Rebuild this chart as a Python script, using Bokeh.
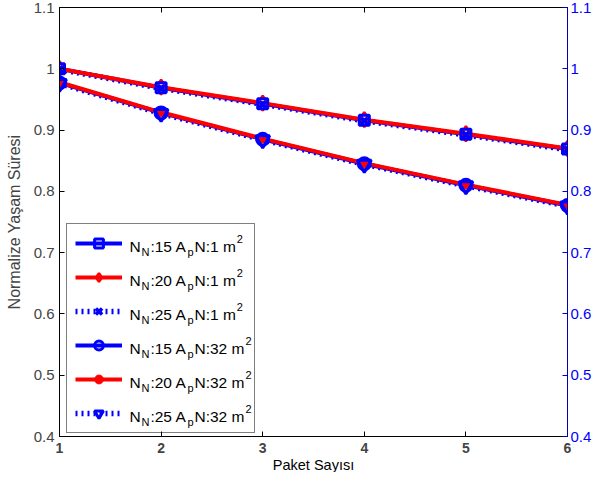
from bokeh.plotting import figure
from bokeh.models import Range1d, LinearAxis, FixedTicker, Legend, LegendItem, Label, Title
from bokeh.embed import file_html
from bokeh.resources import INLINE

# ---- data ----
packets = [1, 2, 3, 4, 5, 6]
n15_a1 = [1.000, 0.969, 0.943, 0.916, 0.893, 0.869]
n20_a1 = [1.000, 0.970, 0.944, 0.917, 0.894, 0.870]
n25_a1 = [0.999, 0.968, 0.942, 0.915, 0.892, 0.868]
n15_a32 = [0.977, 0.928, 0.885, 0.845, 0.810, 0.777]
n20_a32 = [0.978, 0.929, 0.886, 0.846, 0.811, 0.778]
n25_a32 = [0.976, 0.927, 0.884, 0.844, 0.809, 0.776]

x_ticks = [1, 2, 3, 4, 5, 6]
y_ticks = [0.4, 0.5, 0.6, 0.7, 0.8, 0.9, 1.0, 1.1]
y_tick_labels = ["0.4", "0.5", "0.6", "0.7", "0.8", "0.9", "1", "1.1"]

legend_nodes = ["15", "20", "25", "15", "20", "25"]
legend_areas = ["1", "1", "1", "32", "32", "32"]

x_label = "Paket Sayısı"
y_label = "Normalize Yaşam Süresi"

BLUE = "#0000ff"
RED = "#ff0000"
FONT = "Liberation Sans"
X0, Y0 = 1, 0.4  # frame's bottom-left corner in data units

p = figure(width=594, height=472, output_backend="svg", toolbar_location=None,
           x_range=Range1d(1, 6), y_range=Range1d(0.4, 1.1),
           min_border_left=59, min_border_right=10, min_border_top=7,
           min_border_bottom=30)
p.grid.visible = False
p.outline_line_color = "black"
p.background_fill_color = "white"
p.border_fill_color = "white"

overrides = {t: l for t, l in zip(y_ticks, y_tick_labels)}

# bottom axis
xa = p.xaxis[0]
xa.ticker = FixedTicker(ticks=x_ticks)
xa.major_tick_in = 5
xa.major_tick_out = 0
xa.minor_tick_line_color = None
xa.major_label_text_font = FONT
xa.major_label_text_font_size = "14px"
xa.major_label_text_font_style = "bold"
xa.major_label_standoff = 6
xa.axis_label = None

# x-axis title below the tick labels
p.add_layout(Title(text=x_label, align="center", text_font=FONT,
                   text_font_size="14.5px", text_font_style="normal",
                   text_color="black", standoff=-1, offset=0), "below")

# left axis
ya = p.yaxis[0]
ya.ticker = FixedTicker(ticks=y_ticks)
ya.major_label_overrides = overrides
ya.major_tick_in = 5
ya.major_tick_out = 0
ya.minor_tick_line_color = None
ya.major_label_text_font = FONT
ya.major_label_text_font_size = "15px"
ya.major_label_standoff = 5
ya.axis_label = y_label
ya.axis_label_text_font = FONT
ya.axis_label_text_font_size = "16px"
ya.axis_label_text_font_style = "normal"
ya.axis_label_standoff = 8

# top axis (ticks only)
ta = LinearAxis(ticker=FixedTicker(ticks=x_ticks), major_tick_in=5, major_tick_out=0,
                minor_tick_line_color=None, major_label_text_font_size="0px",
                major_label_overrides={t: "" for t in x_ticks},
                major_label_standoff=0, axis_label=None)
p.add_layout(ta, "above")

# right axis (blue)
p.extra_y_ranges = {"right": Range1d(0.4, 1.1)}
ra = LinearAxis(y_range_name="right", ticker=FixedTicker(ticks=y_ticks),
                major_label_overrides=overrides, major_tick_in=5, major_tick_out=0,
                minor_tick_line_color=None, axis_line_color="#0000b4",
                major_tick_line_color="#0000b4", major_label_text_color=BLUE,
                major_label_text_font=FONT, major_label_text_font_size="15px",
                major_label_standoff=3, axis_label=None)
p.add_layout(ra, "right")

# ---- lines ----
l1 = p.line(packets, n15_a1, line_color=BLUE, line_width=4)
l4 = p.line(packets, n15_a32, line_color=BLUE, line_width=4)
l3 = p.line(packets, n25_a1, line_color=BLUE, line_width=5.5, line_dash="2 4")
l6 = p.line(packets, n25_a32, line_color=BLUE, line_width=5.5, line_dash="2 4")
l2 = p.line(packets, n20_a1, line_color=RED, line_width=4)
l5 = p.line(packets, n20_a32, line_color=RED, line_width=4)

# ---- markers ----
m2 = p.scatter(packets, n20_a1, marker="diamond", size=15, line_color=RED,
               fill_color=None, line_width=2.5)
m5 = p.scatter(packets, n20_a32, marker="circle", size=9, line_color=RED,
               fill_color=RED, line_width=1)
m1 = p.scatter(packets, n15_a1, marker="square", size=10, line_color=BLUE,
               fill_color=None, line_width=3)
m3 = p.scatter(packets, n25_a1, marker="x", size=9, line_color=BLUE, line_width=3.5)
m4 = p.scatter(packets, n15_a32, marker="circle", size=12, line_color=BLUE,
               fill_color=None, line_width=3)
m6 = p.scatter(packets, n25_a32, marker="inverted_triangle", size=14, line_color=BLUE,
               fill_color=None, line_width=3)

renderers = [[l1, m1], [l2, m2], [l3, m3], [l4, m4], [l5, m5], [l6, m6]]
items = [LegendItem(label=" ", renderers=r) for r in renderers]

LEG_X, LEG_Y, PAD, GW, GH, SP, STAND, LW = 7, 3, 8, 47, 22, 12, 8, 116
legend = Legend(items=items, location=(LEG_X, LEG_Y), padding=PAD, spacing=SP,
                glyph_width=GW, glyph_height=GH, label_standoff=STAND,
                label_width=LW, label_height=GH, label_text_font_size="1px",
                title_standoff=0,
                border_line_color="black", border_line_width=1.5,
                background_fill_alpha=0.0, margin=0)
p.add_layout(legend)

# ---- legend text with sub/superscripts (offsets in px from frame corner) ----
W = {'N': 0.722, 'A': 0.667, 'p': 0.556, 'm': 0.833, ':': 0.278, ' ': 0.278}
def tw(s, fs):
    return sum(W.get(c, 0.556) for c in s) * fs

MAIN, SUB = 15.5, 11
n = len(items)
for i, (nn, aa) in enumerate(zip(legend_nodes, legend_areas)):
    cy = LEG_Y + PAD + GH / 2 + (n - 1 - i) * (GH + SP)
    x = LEG_X + PAD + GW + STAND
    pieces = [("N", MAIN, -1.5), ("N", SUB, -7.5), (":" + nn + " A", MAIN, -1.5),
              ("p", SUB, -7.5), ("N:" + aa + " m", MAIN, -1.5), ("2", SUB, 5.5)]
    for txt, fs, dy in pieces:
        p.add_layout(Label(x=X0, y=Y0, x_offset=round(x, 1), y_offset=round(cy + dy, 1),
                           text=txt, text_font=FONT, text_font_size=f"{fs}px",
                           text_color="black", text_baseline="alphabetic",
                           text_align="left", level="overlay"))
        x += tw(txt, fs) + 0.9

open("out.html", "w").write(file_html(p, INLINE))
